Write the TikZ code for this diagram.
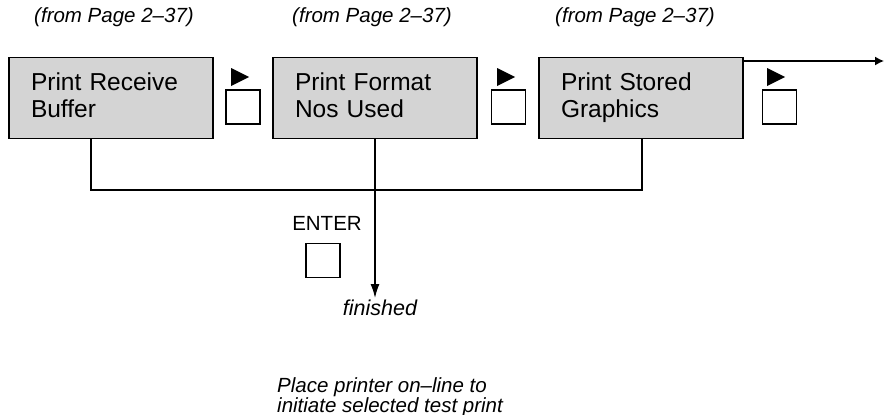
\documentclass[tikz,border=0pt]{standalone}
\usepackage{fontspec}
\setmainfont{Liberation Sans}
\usetikzlibrary{arrows.meta}
\begin{document}
\begin{tikzpicture}[x=1pt,y=-1pt,
  menubox/.style={draw, line width=1.6pt, fill=black!17, minimum width=204pt, minimum height=81pt,
    text width=160pt, align=left, inner sep=0pt, font=\fontsize{24.5}{27}\selectfont},
  keybox/.style={draw, line width=1.6pt, minimum size=34pt, inner sep=0pt},
  keytri/.style={fill=black},
  fromtext/.style={font=\fontsize{20.5}{24}\itshape},
  plaintext/.style={font=\fontsize{20.5}{24}\selectfont},
  conn/.style={line width=1.4pt},
  arr/.style={line width=1.4pt, -{Latex[length=14pt,width=9pt]}}
]
\useasboundingbox (0,0) rectangle (884,415);

% top labels
\node[fromtext] (f1) at (114,17) {(from Page 2–37)};
\node[fromtext] (f2) at (372,17) {(from Page 2–37)};
\node[fromtext] (f3) at (635,17) {(from Page 2–37)};

% menu boxes
\node[menubox] (b1) at (111,98) {Print Receive\\Buffer\vphantom{g}};
\node[menubox] (b2) at (375,98) {Print Format\\Nos Used\vphantom{g}};
\node[menubox] (b3) at (641,98) {Print Stored\\Graphics\vphantom{g}};

% arrow keys
\node[keybox] (k1) at (243,107) {};
\node[keybox] (k2) at (508.5,107) {};
\node[keybox] (k3) at (779.5,107) {};
\fill[keytri] (231,68) -- (249,77) -- (231,86) -- cycle;
\fill[keytri] (497,68) -- (515,77) -- (497,86) -- cycle;
\fill[keytri] (767,68) -- (785,77) -- (767,86) -- cycle;

% enter key
\node[plaintext] (enter) at (327,223) {ENTER};
\node[keybox] (ke) at (323,260.5) {};

% finished
\node[font=\fontsize{21.5}{24}\itshape, inner sep=2pt, anchor=north] (fin) at (380,298) {finished};

% note
\node[font=\fontsize{20.5}{20}\itshape, align=left, anchor=west, inner sep=0pt] (note) at (277,397)
  {Place printer on–line to\\initiate selected test print};

% connectors
\coordinate (j1) at (91,190);
\coordinate (j3) at (642,190);
\draw[conn] ([xshift=-20pt]b1.south) -- (j1) -- (j3) -- (b3.south -| j3);
\draw[arr] (b2.south) -- (b2.south |- fin.north);
\coordinate (out) at (884,61);
\draw[conn, -{Latex[length=9pt,width=9pt]}] (b3.north east |- out) -- (out);
\end{tikzpicture}
\end{document}
